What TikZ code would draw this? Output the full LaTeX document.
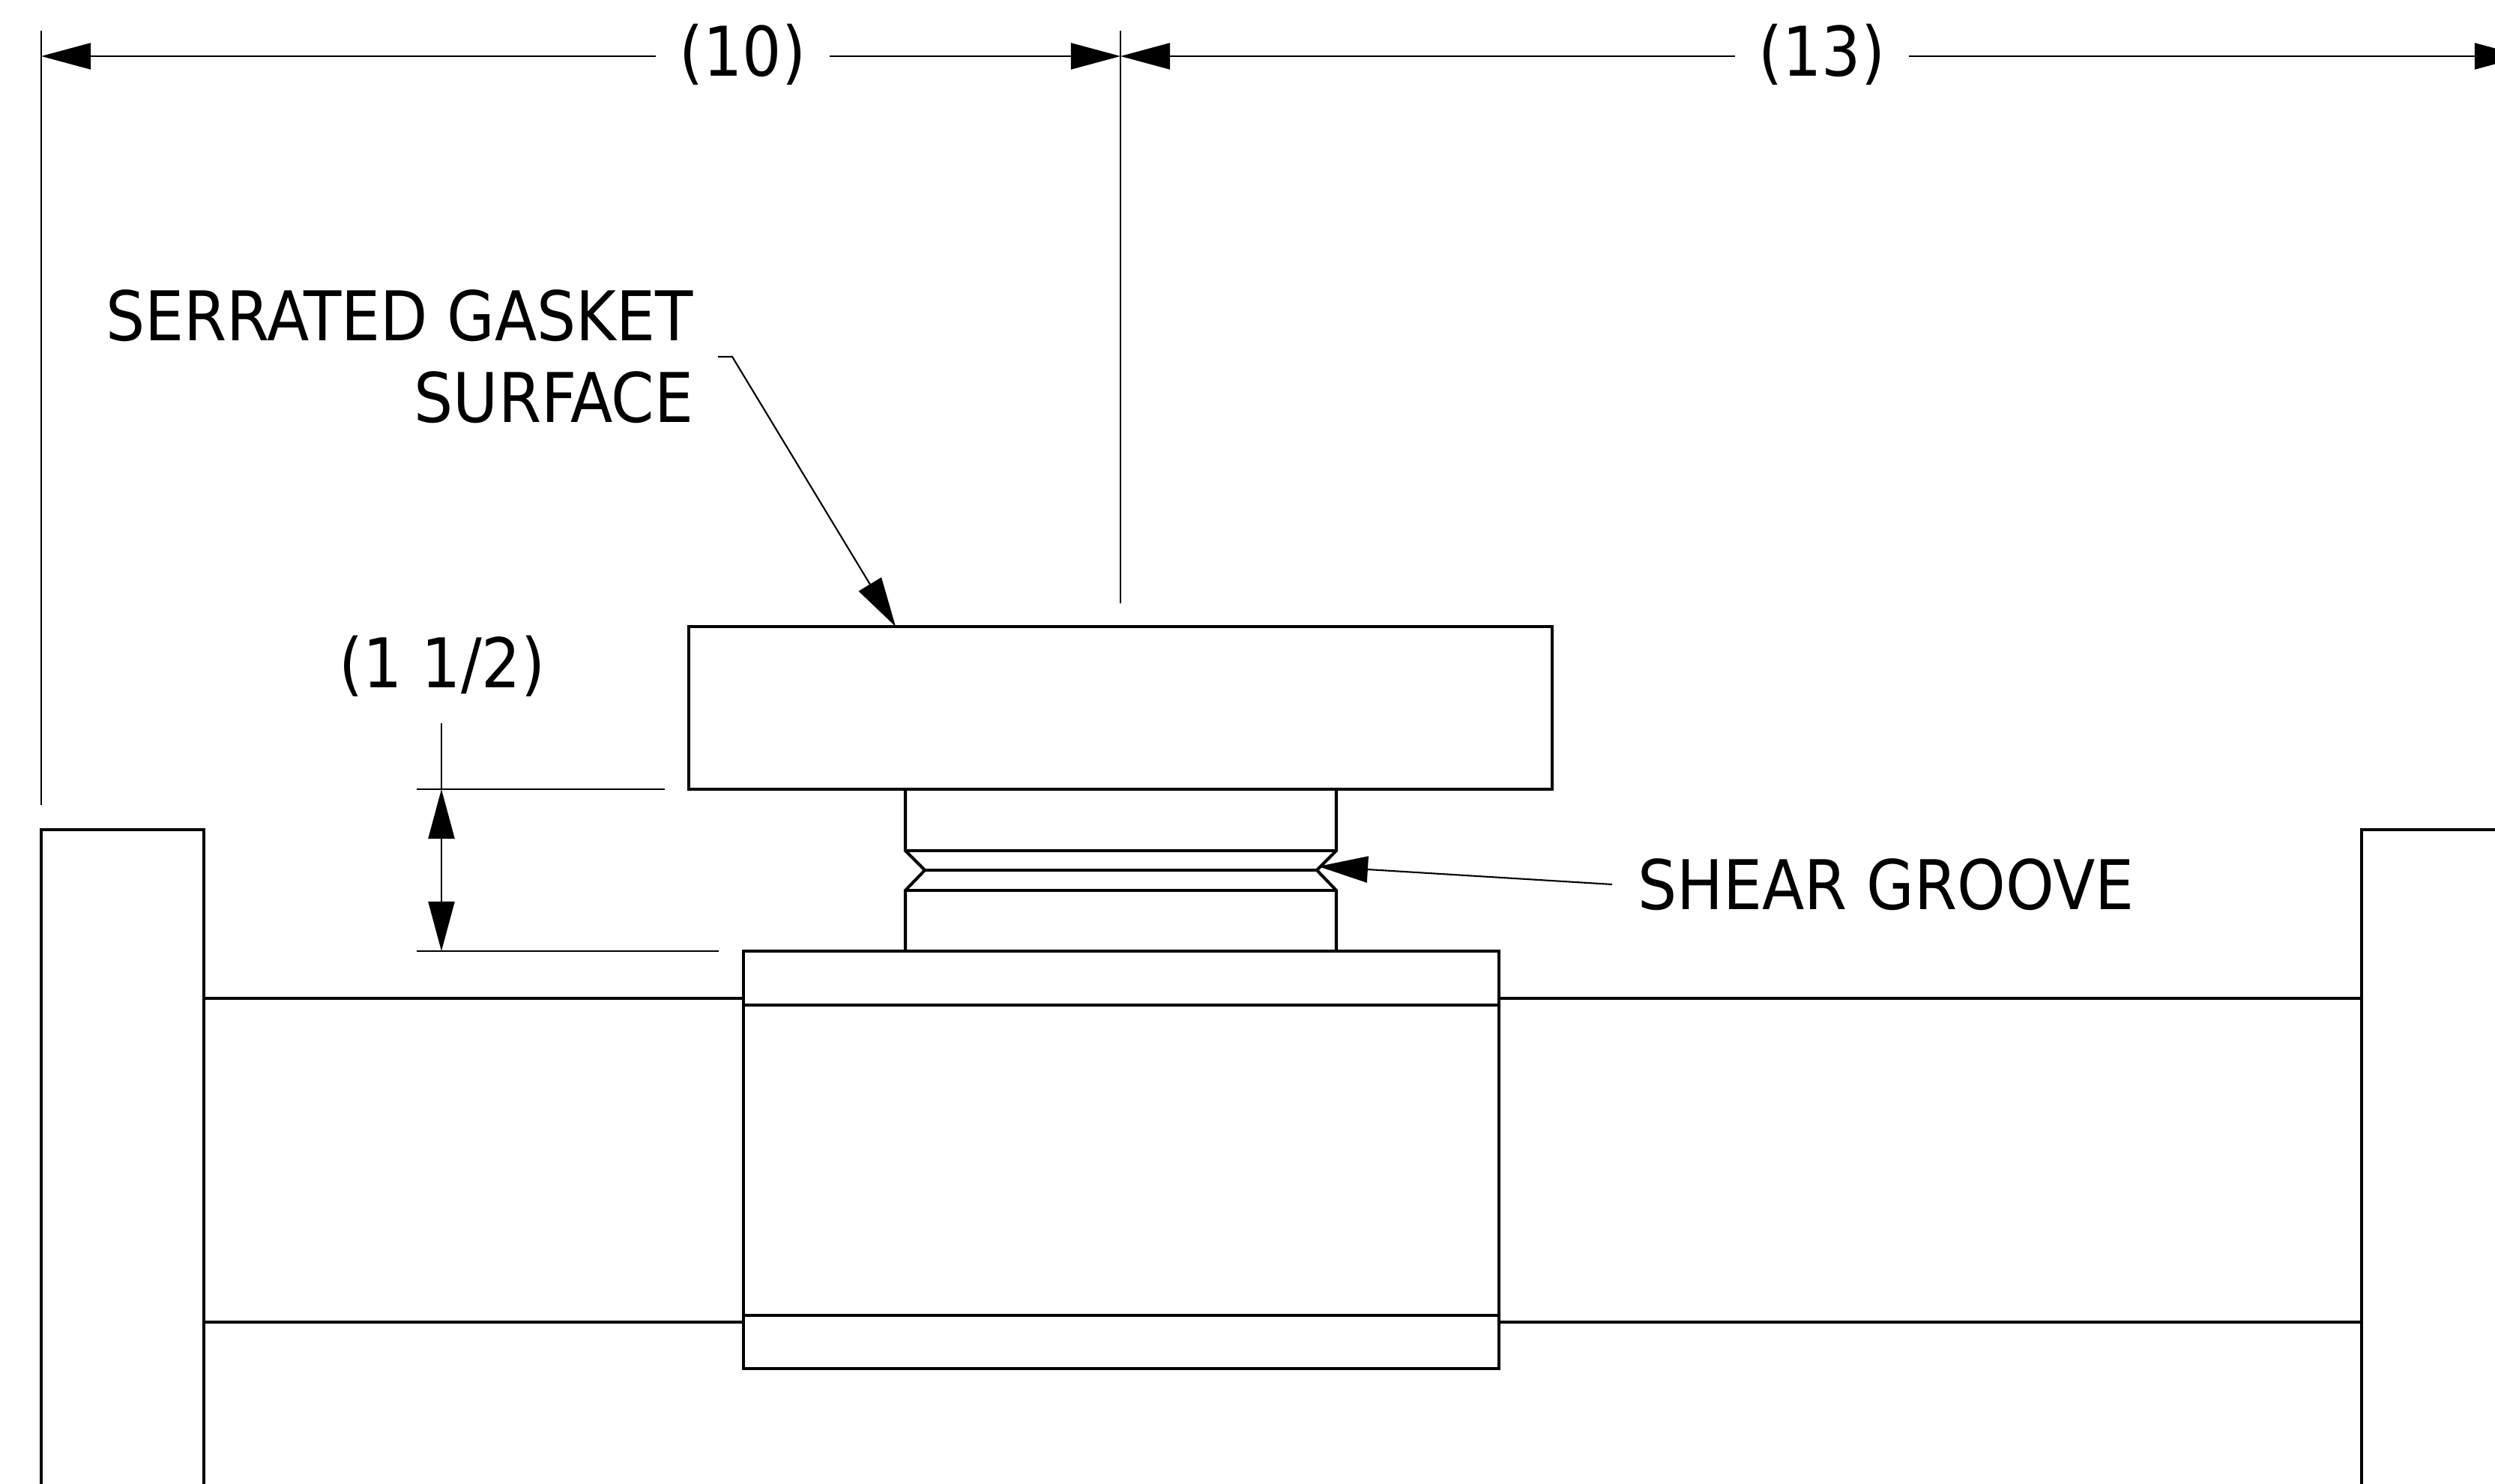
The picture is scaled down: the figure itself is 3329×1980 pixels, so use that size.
\documentclass[tikz,border=0pt]{standalone}
\usepackage{fontspec}
\setmainfont{DejaVu Sans Condensed}
\usetikzlibrary{arrows.meta}
\newcommand{\lw}        {1.15pt}
\newcommand{\lt}        {0.6pt}
\tikzset{
  part/.style={line width=\lw, line join=miter},
  thinline/.style={line width=\lt},
  midline/.style={line width=0.95pt},
  dimline/.style={line width=\lt, -{Triangle[length=0.66cm,width=0.35cm]}},
  twoway/.style={line width=\lt, {Triangle[length=0.66cm,width=0.35cm]}-{Triangle[length=0.66cm,width=0.35cm]}},
  label/.style={font=\fontsize{26}{31}\selectfont, inner sep=0pt, align=right},
  dimlabel/.style={label, inner xsep=0.31cm},
}

\begin{document}
\begin{tikzpicture}[x=0.01cm,y=-0.01cm]
  \clip (0,0) rectangle (3329,1980);
  \fill[white] (0,0) rectangle (3329,1980);

  \coordinate (dimL)  at (55,75);
  \coordinate (dimC)  at (1495,75);
  \coordinate (dimR)  at (3368,75);
  \coordinate (ht1)   at (589,1053);
  \coordinate (ht2)   at (589,1269);
  \coordinate (htTop) at (589,965);
  \coordinate (gasketFrom) at (958,476);
  \coordinate (gasketBend) at (977,476);
  \coordinate (gasketTip)  at (1195,836);
  \coordinate (grooveTip)  at (1759,1156);

  \draw (991,73) node[dimlabel] (lab10) {(10)};
  \draw (2431,73) node[dimlabel] (lab13) {(13)};
  \draw (590,889) node[label] (labHt) {(1 1/2)};
  \draw (926,476) node[label,anchor=east] (labGasket) {SERRATED GASKET\\SURFACE};
  \draw (2151,1180) node[label,anchor=west,inner xsep=0pt,outer xsep=0.34cm] (labGroove) {SHEAR GROOVE};

  \draw[thinline] (55,41) -- (55,1074);
  \draw[thinline] (1495,41) -- (1495,805);
  \draw[dimline] (lab10.west |- dimL) -- (dimL);
  \draw[dimline] (lab10.east |- dimL) -- (dimC);
  \draw[dimline] (lab13.west |- dimL) -- (dimC);
  \draw[dimline] (lab13.east |- dimL) -- (dimR);

  \draw[thinline] (556,1053) -- (887,1053);
  \draw[thinline] (556,1269) -- (959,1269);
  \draw[thinline] (htTop) -- (ht1);
  \draw[twoway] (ht1) -- (ht2);

  \draw[dimline] (gasketFrom) -- (gasketBend) -- (gasketTip);
  \draw[dimline] (labGroove.west) -- (grooveTip);

  \draw[part] (919,836) rectangle (2071,1053);
  \draw[part] (1208,1053) -- (1208,1135) -- (1234,1161) -- (1208,1188) -- (1208,1269);
  \draw[part] (1783,1053) -- (1783,1135) -- (1757,1161) -- (1783,1188) -- (1783,1269);
  \draw[part] (1208,1135) -- (1783,1135);
  \draw[part] (1234,1161) -- (1757,1161);
  \draw[part] (1208,1188) -- (1783,1188);

  \draw[part] (992,1269) rectangle (2000,1826);
  \draw[midline] (992,1341) -- (2000,1341);
  \draw[midline] (992,1755) -- (2000,1755);

  \draw[part] (55,1990) -- (55,1107) -- (272,1107) -- (272,1990);
  \draw[part] (3340,1107) -- (3151,1107) -- (3151,1990);
  \draw[part] (272,1332) -- (992,1332);
  \draw[part] (272,1764) -- (992,1764);
  \draw[part] (2000,1332) -- (3151,1332);
  \draw[part] (2000,1764) -- (3151,1764);
\end{tikzpicture}
\end{document}
